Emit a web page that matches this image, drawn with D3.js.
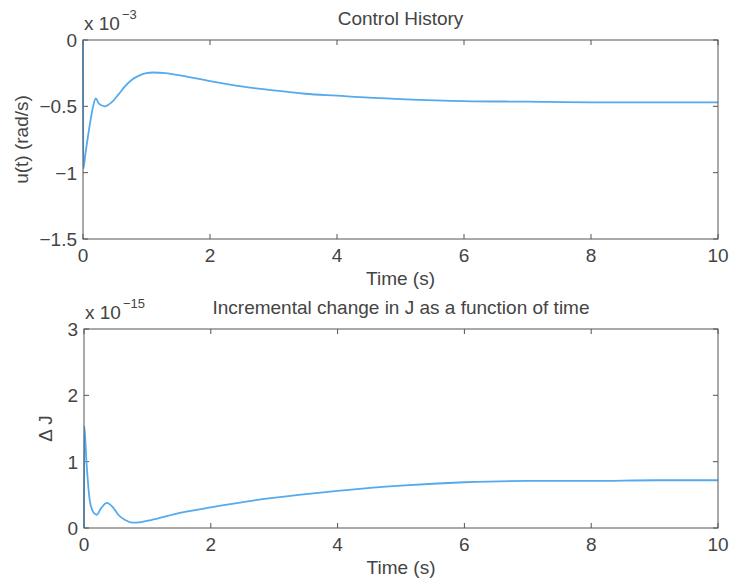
<!DOCTYPE html>
<html><head><meta charset="utf-8">
<script src="https://cdn.jsdelivr.net/npm/d3@7"></script>
<style>body{margin:0;background:#fff}svg{display:block}text{font-family:"Liberation Sans",Arial,sans-serif;fill:#444}</style>
</head><body><svg id="c" width="733" height="582"></svg>
<script>
// Control history: time (s) and u(t) in units of 1e-3 rad/s
const timeU = [0,0.005,0.04,0.08,0.12,0.16,0.2,0.25,0.34,0.45,0.56,0.66,0.77,0.9,1.0,1.1,1.3,1.5,2.0,2.5,3.0,3.5,4.0,4.5,5.0,6.0,7.0,8.0,9.0,10.0];
const valU  = [0,-0.97,-0.85,-0.72,-0.60,-0.50,-0.44,-0.48,-0.50,-0.47,-0.41,-0.35,-0.30,-0.265,-0.25,-0.245,-0.25,-0.265,-0.31,-0.35,-0.38,-0.405,-0.42,-0.435,-0.445,-0.46,-0.465,-0.47,-0.47,-0.47];
// Incremental change in J, units of 1e-15
const timeJ = [0,0.005,0.04,0.09,0.14,0.2,0.27,0.36,0.45,0.54,0.65,0.77,0.9,1.06,1.43,2.0,2.79,3.5,4.0,5.0,6.0,7.0,8.0,9.0,10.0];
const valJ  = [0,1.53,0.98,0.42,0.25,0.20,0.30,0.38,0.32,0.20,0.12,0.08,0.09,0.12,0.21,0.31,0.43,0.51,0.56,0.64,0.69,0.71,0.71,0.72,0.72];
const xTicks = [0,2,4,6,8,10];
const yTicksU = [0,-0.5,-1,-1.5];
const yTicksJ = [0,1,2,3];

const svg = d3.select("#c");
const fmt = v => (v<0?"\u2212":"") + Math.abs(v);

function panel(o){
  const x = d3.scaleLinear().domain([0,10]).range([o.left, 718]);
  const y = d3.scaleLinear().domain(o.ydom).range([o.bottom, o.top]);
  const g = svg.append("g");
  const tl = 5;
  // ticks (inward, all four sides)
  xTicks.forEach(t=>{
    g.append("line").attr("x1",x(t)).attr("x2",x(t)).attr("y1",o.bottom).attr("y2",o.bottom-tl).attr("stroke","#555");
    g.append("line").attr("x1",x(t)).attr("x2",x(t)).attr("y1",o.top).attr("y2",o.top+tl).attr("stroke","#555");
    g.append("text").attr("x",x(t)).attr("y",o.bottom+23).attr("text-anchor","middle").attr("font-size",19).text(fmt(t));
  });
  o.yticks.forEach(t=>{
    g.append("line").attr("x1",o.left).attr("x2",o.left+tl).attr("y1",y(t)).attr("y2",y(t)).attr("stroke","#555");
    g.append("line").attr("x1",718).attr("x2",718-tl).attr("y1",y(t)).attr("y2",y(t)).attr("stroke","#555");
    g.append("text").attr("x",o.left-6).attr("y",y(t)).attr("dy","0.36em").attr("text-anchor","end").attr("font-size",19).text(fmt(t));
  });
  const line = d3.line().x((d,i)=>x(o.t[i])).y(d=>y(d)).curve(d3.curveMonotoneX);
  g.append("path").attr("d",line(o.v)).attr("fill","none").attr("stroke","#55aaee").attr("stroke-width",1.8);
  g.append("rect").attr("x",o.left).attr("y",o.top).attr("width",718-o.left).attr("height",o.bottom-o.top)
    .attr("fill","none").attr("stroke","#555").attr("stroke-width",1);
  g.append("text").attr("x",(o.left+718)/2).attr("y",o.top-15).attr("text-anchor","middle").attr("font-size",19).text(o.title);
  g.append("text").attr("x",(o.left+718)/2).attr("y",o.bottom+46).attr("text-anchor","middle").attr("font-size",19).text("Time (s)");
  g.append("text").attr("transform",`translate(${o.ylx},${(o.top+o.bottom)/2}) rotate(-90)`).attr("text-anchor","middle").attr("font-size",19).text(o.ylabel);
  const ex = g.append("text").attr("x",o.left+1).attr("y",o.top-10).attr("font-size",19);
  ex.append("tspan").text("x 10");
  ex.append("tspan").attr("font-size",13).attr("dy",-11).attr("dx",2).text(o.exp);
}
panel({left:83, top:40, bottom:239, ydom:[-1.5,0], yticks:yTicksU, t:timeU, v:valU,
  title:"Control History", ylabel:"u(t) (rad/s)", ylx:28, exp:"\u22123"});
panel({left:84, top:329, bottom:528, ydom:[0,3], yticks:yTicksJ, t:timeJ, v:valJ,
  title:"Incremental change in J as a function of time", ylabel:"\u0394 J", ylx:52, exp:"\u221215"});
</script></body></html>
